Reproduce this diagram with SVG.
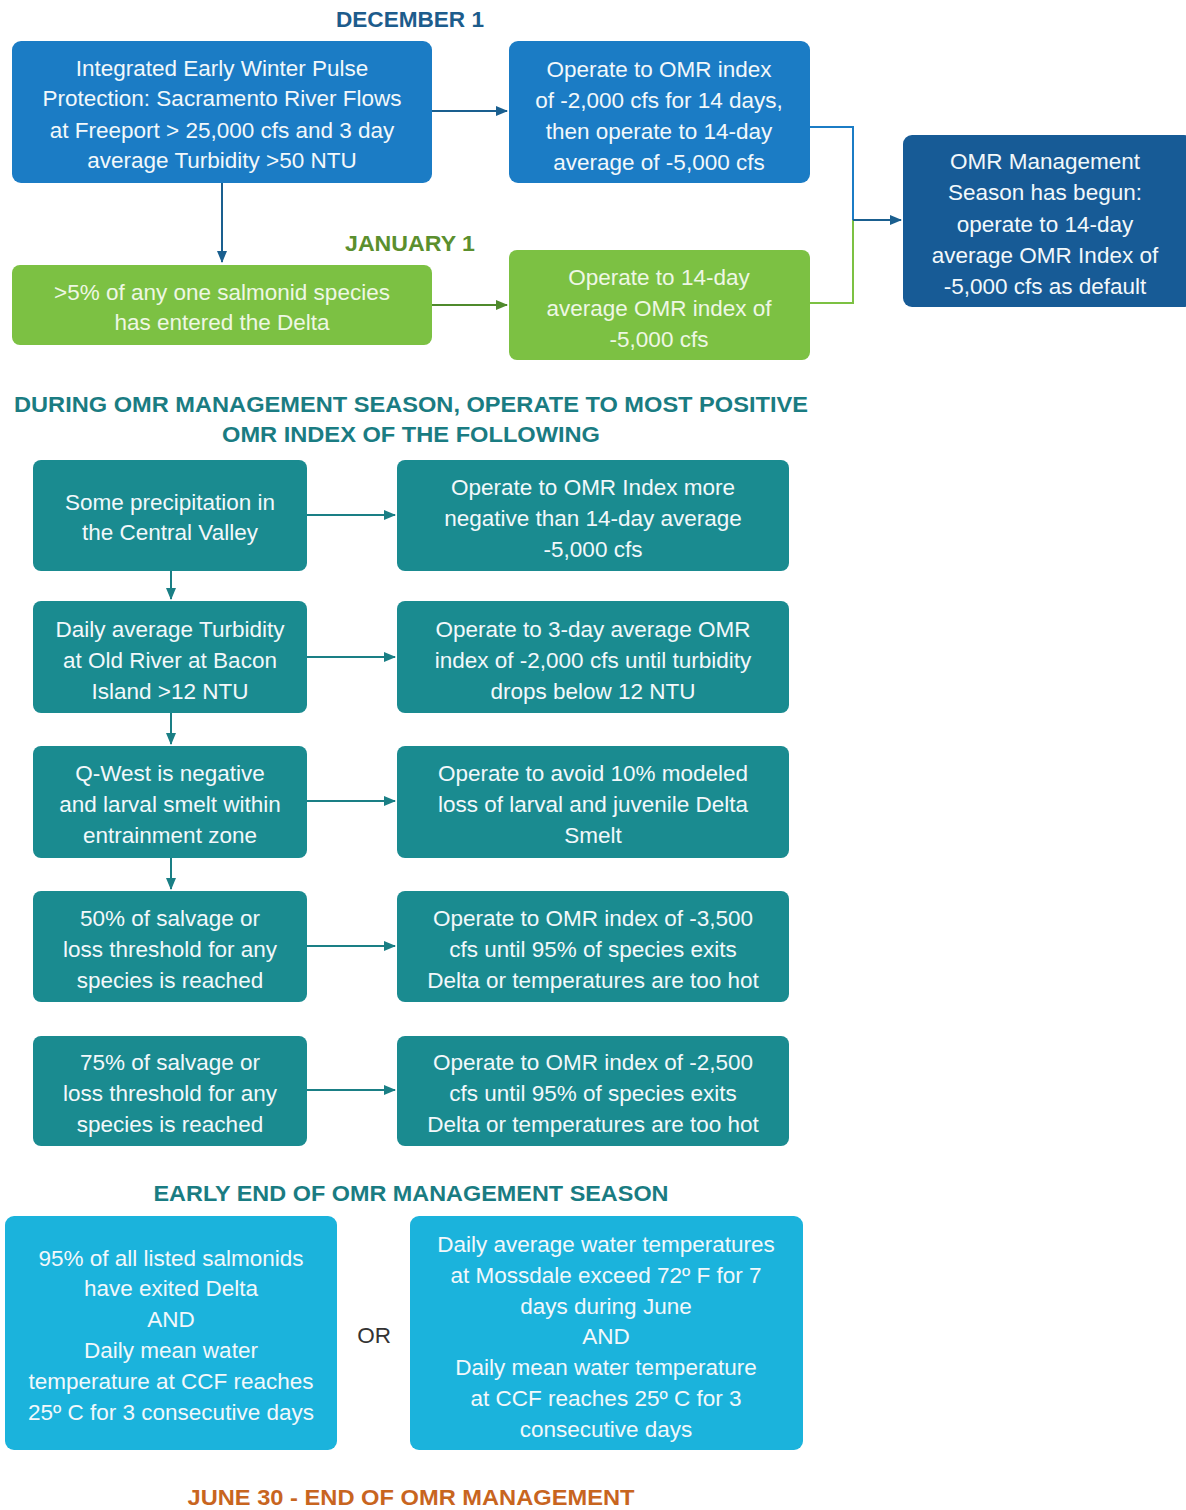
<svg xmlns="http://www.w3.org/2000/svg" width="1186" height="1510" viewBox="0 0 1186 1510">
<style>
.t{font-family:"Liberation Sans",Arial,sans-serif;font-size:22.5px;text-anchor:middle;fill:#f2f8fb}
.tg{fill:#eef7e4}
.h{font-family:"Liberation Sans",Arial,sans-serif;font-size:22px;font-weight:bold;text-anchor:middle}
.blue{fill:#1b7cc5}
.green{fill:#7cc143}
.dark{fill:#175b96}
.teal{fill:#1a8b90}
.cyan{fill:#1bb3dc}
.c{fill:none;stroke-width:2}
</style>
<defs>
<marker id="ab" markerWidth="12" markerHeight="12" refX="11" refY="6" orient="auto" markerUnits="userSpaceOnUse"><path d="M0,1 L12,6 L0,11 z" fill="#1a5f8f"/></marker>
<marker id="ag" markerWidth="12" markerHeight="12" refX="11" refY="6" orient="auto" markerUnits="userSpaceOnUse"><path d="M0,1 L12,6 L0,11 z" fill="#4f8a2c"/></marker>
<marker id="at" markerWidth="12" markerHeight="12" refX="11" refY="6" orient="auto" markerUnits="userSpaceOnUse"><path d="M0,1 L12,6 L0,11 z" fill="#1a7f85"/></marker>
</defs>
<rect width="1186" height="1510" fill="#ffffff"/>

<g id="headings">
<text class="h" x="410" y="27" fill="#1d5c8c" textLength="148" lengthAdjust="spacingAndGlyphs">DECEMBER 1</text>
<text class="h" x="410" y="251" fill="#5b8f2e" textLength="130" lengthAdjust="spacingAndGlyphs">JANUARY 1</text>
<text class="h" x="411" y="412" fill="#1a7c82" textLength="794" lengthAdjust="spacingAndGlyphs">DURING OMR MANAGEMENT SEASON, OPERATE TO MOST POSITIVE</text>
<text class="h" x="411" y="442" fill="#1a7c82" textLength="378" lengthAdjust="spacingAndGlyphs">OMR INDEX OF THE FOLLOWING</text>
<text class="h" x="411" y="1201" fill="#1a7c82" textLength="515" lengthAdjust="spacingAndGlyphs">EARLY END OF OMR MANAGEMENT SEASON</text>
<text class="h" x="411" y="1505" fill="#c8651f" textLength="447" lengthAdjust="spacingAndGlyphs">JUNE 30 - END OF OMR MANAGEMENT</text>
</g>

<g id="connectors">
<line class="c" stroke="#1a5f8f" x1="432" y1="111" x2="507" y2="111" marker-end="url(#ab)"/>
<line class="c" stroke="#1a5f8f" x1="222" y1="183" x2="222" y2="262" marker-end="url(#ab)"/>
<line class="c" stroke="#4f8a2c" x1="432" y1="305" x2="507" y2="305" marker-end="url(#ag)"/>
<polyline class="c" stroke="#1b7cc5" points="810,127 853,127 853,220"/>
<polyline class="c" stroke="#7cc143" points="810,303 853,303 853,220"/>
<line class="c" stroke="#1a5f8f" x1="853" y1="220" x2="901" y2="220" marker-end="url(#ab)"/>
<line class="c" stroke="#1a7f85" x1="307" y1="515" x2="395" y2="515" marker-end="url(#at)"/>
<line class="c" stroke="#1a7f85" x1="307" y1="657" x2="395" y2="657" marker-end="url(#at)"/>
<line class="c" stroke="#1a7f85" x1="307" y1="801" x2="395" y2="801" marker-end="url(#at)"/>
<line class="c" stroke="#1a7f85" x1="307" y1="946" x2="395" y2="946" marker-end="url(#at)"/>
<line class="c" stroke="#1a7f85" x1="307" y1="1090" x2="395" y2="1090" marker-end="url(#at)"/>
<line class="c" stroke="#1a7f85" x1="171" y1="571" x2="171" y2="599" marker-end="url(#at)"/>
<line class="c" stroke="#1a7f85" x1="171" y1="713" x2="171" y2="744" marker-end="url(#at)"/>
<line class="c" stroke="#1a7f85" x1="171" y1="858" x2="171" y2="889" marker-end="url(#at)"/>
</g>

<g id="n1"><rect class="blue" x="12" y="41" width="420" height="142" rx="9"/>
<text class="t" x="222" y="76">Integrated Early Winter Pulse</text>
<text class="t" x="222" y="106">Protection: Sacramento River Flows</text>
<text class="t" x="222" y="138">at Freeport &gt; 25,000 cfs and 3 day</text>
<text class="t" x="222" y="168">average Turbidity &gt;50 NTU</text></g>

<g id="n2"><rect class="blue" x="509" y="41" width="301" height="142" rx="9"/>
<text class="t" x="659" y="77">Operate to OMR index</text>
<text class="t" x="659" y="108">of -2,000 cfs for 14 days,</text>
<text class="t" x="659" y="139">then operate to 14-day</text>
<text class="t" x="659" y="170">average of -5,000 cfs</text></g>

<g id="n3"><rect class="green" x="12" y="265" width="420" height="80" rx="8"/>
<text class="t tg" x="222" y="300">&gt;5% of any one salmonid species</text>
<text class="t tg" x="222" y="330">has entered the Delta</text></g>

<g id="n4"><rect class="green" x="509" y="250" width="301" height="110" rx="8"/>
<text class="t tg" x="659" y="285">Operate to 14-day</text>
<text class="t tg" x="659" y="316">average OMR index of</text>
<text class="t tg" x="659" y="347">-5,000 cfs</text></g>

<g id="n5"><rect class="dark" x="903" y="135" width="290" height="172" rx="9"/>
<text class="t" x="1045" y="169">OMR Management</text>
<text class="t" x="1045" y="200">Season has begun:</text>
<text class="t" x="1045" y="232">operate to 14-day</text>
<text class="t" x="1045" y="263">average OMR Index of</text>
<text class="t" x="1045" y="294">-5,000 cfs as default</text></g>

<g id="n6"><rect class="teal" x="33" y="460" width="274" height="111" rx="8"/>
<text class="t" x="170" y="510">Some precipitation in</text>
<text class="t" x="170" y="540">the Central Valley</text></g>
<g id="n7"><rect class="teal" x="397" y="460" width="392" height="111" rx="8"/>
<text class="t" x="593" y="495">Operate to OMR Index more</text>
<text class="t" x="593" y="526">negative than 14-day average</text>
<text class="t" x="593" y="557">-5,000 cfs</text></g>

<g id="n8"><rect class="teal" x="33" y="601" width="274" height="112" rx="8"/>
<text class="t" x="170" y="637">Daily average Turbidity</text>
<text class="t" x="170" y="668">at Old River at Bacon</text>
<text class="t" x="170" y="699">Island &gt;12 NTU</text></g>
<g id="n9"><rect class="teal" x="397" y="601" width="392" height="112" rx="8"/>
<text class="t" x="593" y="637">Operate to 3-day average OMR</text>
<text class="t" x="593" y="668">index of -2,000 cfs until turbidity</text>
<text class="t" x="593" y="699">drops below 12 NTU</text></g>

<g id="n10"><rect class="teal" x="33" y="746" width="274" height="112" rx="8"/>
<text class="t" x="170" y="781">Q-West is negative</text>
<text class="t" x="170" y="812">and larval smelt within</text>
<text class="t" x="170" y="843">entrainment zone</text></g>
<g id="n11"><rect class="teal" x="397" y="746" width="392" height="112" rx="8"/>
<text class="t" x="593" y="781">Operate to avoid 10% modeled</text>
<text class="t" x="593" y="812">loss of larval and juvenile Delta</text>
<text class="t" x="593" y="843">Smelt</text></g>

<g id="n12"><rect class="teal" x="33" y="891" width="274" height="111" rx="8"/>
<text class="t" x="170" y="926">50% of salvage or</text>
<text class="t" x="170" y="957">loss threshold for any</text>
<text class="t" x="170" y="988">species is reached</text></g>
<g id="n13"><rect class="teal" x="397" y="891" width="392" height="111" rx="8"/>
<text class="t" x="593" y="926">Operate to OMR index of -3,500</text>
<text class="t" x="593" y="957">cfs until 95% of species exits</text>
<text class="t" x="593" y="988">Delta or temperatures are too hot</text></g>

<g id="n14"><rect class="teal" x="33" y="1036" width="274" height="110" rx="8"/>
<text class="t" x="170" y="1070">75% of salvage or</text>
<text class="t" x="170" y="1101">loss threshold for any</text>
<text class="t" x="170" y="1132">species is reached</text></g>
<g id="n15"><rect class="teal" x="397" y="1036" width="392" height="110" rx="8"/>
<text class="t" x="593" y="1070">Operate to OMR index of -2,500</text>
<text class="t" x="593" y="1101">cfs until 95% of species exits</text>
<text class="t" x="593" y="1132">Delta or temperatures are too hot</text></g>

<g id="n16"><rect class="cyan" x="5" y="1216" width="332" height="234" rx="9"/>
<text class="t" x="171" y="1266">95% of all listed salmonids</text>
<text class="t" x="171" y="1296">have exited Delta</text>
<text class="t" x="171" y="1327">AND</text>
<text class="t" x="171" y="1358">Daily mean water</text>
<text class="t" x="171" y="1389">temperature at CCF reaches</text>
<text class="t" x="171" y="1420">25º C for 3 consecutive days</text></g>

<g id="or"><text class="t" x="374" y="1343" style="fill:#333333">OR</text></g>

<g id="n17"><rect class="cyan" x="410" y="1216" width="393" height="234" rx="9"/>
<text class="t" x="606" y="1252">Daily average water temperatures</text>
<text class="t" x="606" y="1283">at Mossdale exceed 72º F for 7</text>
<text class="t" x="606" y="1314">days during June</text>
<text class="t" x="606" y="1344">AND</text>
<text class="t" x="606" y="1375">Daily mean water temperature</text>
<text class="t" x="606" y="1406">at CCF reaches 25º C for 3</text>
<text class="t" x="606" y="1437">consecutive days</text></g>
</svg>
